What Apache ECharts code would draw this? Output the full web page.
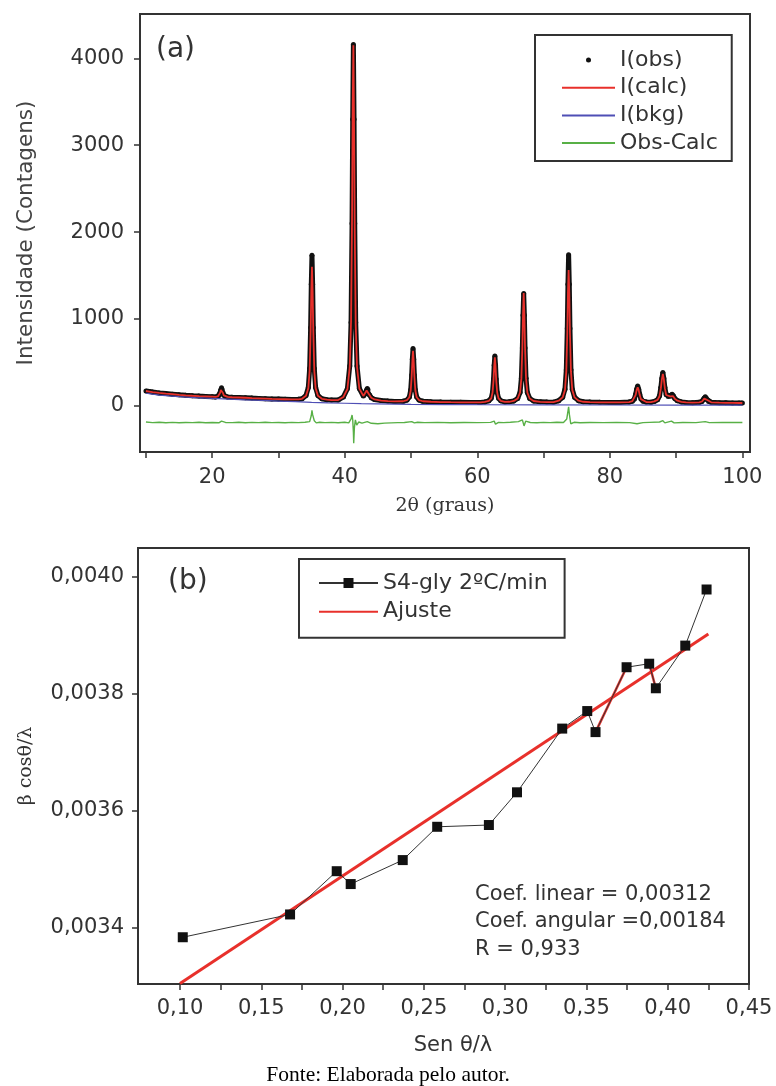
<!DOCTYPE html>
<html>
<head>
<meta charset="utf-8">
<script src="https://cdn.jsdelivr.net/npm/echarts@6/dist/echarts.min.js"></script>
<style>
  html, body { margin: 0; padding: 0; background: #fff; }
  #chart { width: 776px; height: 1086px; }
</style>
</head>
<body>
<div id="chart"></div>
<script>
// ---------- (a) X-ray diffraction pattern with Rietveld fit ----------
const twoTheta = [
  10.0, 10.5, 11.0, 12.0, 13.0, 14.0, 15.0, 16.0, 17.0, 18.0, 19.0, 20.0, 20.5,
  20.85, 21.05, 21.2, 21.3, 21.4, 21.5, 21.6, 21.75, 21.95, 22.3,
  23.0, 24.0, 25.0, 26.0, 27.0, 28.0, 29.0, 30.0, 31.0, 32.0, 33.0, 33.55,
  34.15, 34.5, 34.7, 34.85, 34.95, 35.05, 35.15, 35.25, 35.4, 35.6, 35.95, 36.55,
  37.3, 38.0, 39.0, 39.8,
  40.4, 40.75, 40.95, 41.1, 41.2, 41.3, 41.4, 41.5, 41.65, 41.85, 42.2, 42.8,
  43.1, 43.3, 43.4, 43.5, 43.7, 44.0, 44.5, 45.5, 46.5, 47.5, 48.8,
  49.4, 49.75, 49.95, 50.1, 50.2, 50.3, 50.4, 50.5, 50.65, 50.85, 51.2, 51.8,
  53.0, 54.5, 56.0, 57.5, 59.0, 60.5, 61.15, 61.75,
  62.1, 62.3, 62.45, 62.55, 62.65, 62.75, 62.85, 63.0, 63.2, 63.55, 64.15, 64.8, 65.5,
  66.1, 66.45, 66.65, 66.8, 66.9, 67.0, 67.1, 67.2, 67.35, 67.55, 67.9, 68.5,
  69.5, 70.5, 71.5, 72.28,
  72.88, 73.23, 73.43, 73.58, 73.68, 73.78, 73.88, 73.98, 74.13, 74.33, 74.68, 75.28,
  76.0, 77.0, 78.5, 80.0, 81.5, 82.9,
  83.4, 83.7, 83.9, 84.05, 84.2, 84.35, 84.5, 84.7, 85.0, 85.5, 86.2, 86.7,
  87.2, 87.5, 87.7, 87.85, 88.0, 88.15, 88.3, 88.5, 88.8,
  89.1, 89.3, 89.4, 89.55, 89.8, 90.2, 90.8, 91.5, 92.5, 93.5,
  93.9, 94.1, 94.25, 94.4, 94.55, 94.7, 94.9, 95.3, 96.5, 97.5, 98.5, 99.5, 100.0
];
const iObs = [
  172, 166, 160, 150, 142, 135, 128, 122, 117, 113, 110, 107, 104,
  110, 124, 155, 188, 210, 188, 155, 124, 110, 104,
  100, 97, 94, 90, 87, 84, 81, 79, 77, 75, 76, 82,
  120, 212, 430, 900, 1400, 1735, 1400, 900, 430, 212, 120, 82,
  72, 68, 68, 104,
  200, 460, 960, 2100, 3300, 4160, 3300, 2100, 960, 460, 200, 115,
  140, 185, 200, 185, 130, 95, 75, 62, 56, 52, 54,
  68, 102, 182, 354, 537, 660, 537, 354, 182, 102, 68, 54,
  48, 45, 43, 42, 41, 41, 46, 59,
  88, 158, 308, 468, 575, 468, 308, 158, 88, 59, 46, 48, 57,
  86, 155, 318, 668, 1045, 1295, 1045, 668, 318, 155, 86, 57,
  47, 44, 43, 60,
  100, 193, 414, 890, 1400, 1740, 1400, 890, 414, 193, 100, 60,
  48, 44, 42, 41, 40, 45,
  55, 80, 134, 192, 230, 192, 134, 80, 55, 45, 43, 52,
  71, 116, 212, 316, 385, 316, 212, 130, 108,
  115, 130, 135, 120, 85, 60, 46, 40, 38, 42,
  52, 72, 92, 106, 92, 72, 52, 42, 37, 36, 35, 34, 34
];
const iCalc = [
  172, 166, 160, 150, 142, 135, 128, 122, 117, 113, 110, 107, 104,
  109, 122, 152, 183, 200, 183, 152, 122, 109, 104,
  100, 97, 94, 90, 87, 84, 81, 79, 77, 75, 76, 82,
  118, 205, 410, 860, 1320, 1600, 1320, 860, 410, 205, 118, 82,
  72, 68, 68, 104,
  195, 450, 980, 2200, 3450, 4150, 3250, 2050, 940, 450, 200, 115,
  138, 178, 190, 178, 128, 95, 75, 62, 56, 52, 54,
  68, 100, 178, 345, 515, 635, 515, 345, 178, 100, 68, 54,
  48, 45, 43, 42, 41, 41, 46, 59,
  87, 155, 300, 455, 560, 455, 300, 155, 87, 59, 46, 48, 57,
  86, 155, 320, 675, 1050, 1300, 1050, 675, 320, 155, 86, 57,
  47, 44, 43, 60,
  98, 185, 400, 840, 1300, 1565, 1300, 840, 400, 185, 98, 60,
  48, 44, 42, 41, 40, 45,
  55, 78, 128, 182, 215, 182, 128, 78, 55, 45, 43, 52,
  70, 112, 205, 305, 370, 305, 205, 126, 105,
  110, 122, 125, 113, 82, 60, 46, 40, 38, 42,
  51, 68, 84, 92, 84, 68, 51, 42, 37, 36, 35, 34, 34
];
const bkgTheta = [10, 11, 12, 13.5, 15, 17.5, 20, 22.5, 25, 27.5, 30, 32.5, 35, 37.5, 40, 42.5, 45, 47.5, 50, 55, 60, 70, 80, 90, 100];
const iBkg = [146, 135, 125, 115, 107, 96, 86, 78, 70, 63, 56, 49, 42, 36, 31, 27, 24, 21, 19, 16, 14, 12, 11, 10, 10];
const diffTheta = [
  10, 11, 12, 13, 14, 15, 16, 17, 18, 19, 20, 21, 21.4, 21.6, 22, 23, 24, 25, 26, 27, 28, 29, 30,
  31, 32, 33, 34, 34.7, 34.95, 35.05, 35.15, 35.4, 35.7, 36.2, 37, 38, 39, 40, 40.6,
  40.95, 41.1, 41.2, 41.3, 41.35, 41.45, 41.6, 41.8, 42.1, 42.6, 43.4, 44, 45, 46, 47, 48, 49,
  50.1, 50.3, 50.5, 51, 52, 54, 56, 58, 60, 62, 62.55, 62.75, 63.2, 64, 65,
  66.2, 66.8, 67.05, 67.3, 68, 69, 70, 71, 72, 73, 73.5, 73.78, 73.9, 74.1, 74.6, 75.5,
  77, 79, 81, 83, 84.1, 84.4, 85, 86, 87.5, 88, 88.3, 89.3, 89.7, 91, 93, 94.4, 95, 97, 99, 100
];
const iDiff = [
  -185, -192, -188, -193, -189, -194, -190, -192, -188, -193, -190, -194, -175, -198, -190, -192, -188, -193, -189, -192, -188, -192, -190,
  -193, -189, -192, -188, -180, -110, -50, -100, -170, -195, -188, -192, -189, -193, -188, -195,
  -150, -104, -160, -300, -430, -250, -160, -220, -185, -198, -180, -200, -205, -198, -195, -192, -190,
  -180, -165, -195, -188, -192, -189, -193, -190, -192, -189, -175, -210, -190, -192, -188,
  -180, -160, -230, -175, -190, -193, -189, -192, -188, -190, -150, -10, -100, -205, -188, -193,
  -190, -192, -189, -192, -205, -185, -192, -189, -185, -170, -195, -175, -195, -190, -192, -180, -192, -189, -191, -190
];
const xrdXTicks = [10, 20, 30, 40, 50, 60, 70, 80, 90, 100];
const xrdXLabels = [20, 40, 60, 80, 100];
const xrdYTicks = [0, 1000, 2000, 3000, 4000];

// ---------- (b) Williamson-Hall plot ----------
const sinThetaLambda = [0.1017, 0.1677, 0.1964, 0.2050, 0.2370, 0.2582, 0.2900, 0.3073,
  0.3351, 0.3505, 0.3556, 0.3747, 0.3886, 0.3927, 0.4108, 0.4239];
const betaCosThetaLambda = [0.003383, 0.003422, 0.003496, 0.003474, 0.003515, 0.003572, 0.003575, 0.003631,
  0.003740, 0.003770, 0.003734, 0.003845, 0.003851, 0.003809, 0.003882, 0.003978];
const fitIntercept = 0.00312;   // Coef. linear
const fitSlope = 0.00184;       // Coef. angular
const fitR = 0.933;
const fitXRange = [0.1, 0.425];
const redSegments = [[10, 11], [12, 13]];   // point pairs joined in red
const whXTicks = [0.1, 0.125, 0.15, 0.175, 0.2, 0.225, 0.25, 0.275, 0.3, 0.325, 0.35, 0.375, 0.4, 0.425, 0.45];
const whXLabels = [0.1, 0.15, 0.2, 0.25, 0.3, 0.35, 0.4, 0.45];
const whYTicks = [0.0034, 0.0036, 0.0038, 0.0040];

// ---------- helpers ----------
const comma = (v, d) => v.toFixed(d).replace('.', ',');
const pairs = (xs, ys) => xs.map((x, i) => [x, ys[i]]);
const SANS = 'DejaVu Sans';
const SERIF = 'DejaVu Serif';
const INK = '#333';
const RED = '#e8302b';

const axisBase = {
  splitLine: { show: false },
  axisLine: { show: true, onZero: false, lineStyle: { color: INK, width: 2 } },
  axisLabel: { fontFamily: SANS, fontSize: 21, color: INK },
};
function tickStyle(values) {
  return { show: true, inside: false, length: 6, customValues: values, lineStyle: { color: INK, width: 1.5 } };
}

const chart = echarts.init(document.getElementById('chart'), null, { renderer: 'canvas' });

const fitData = fitXRange.map(x => [x, fitIntercept + fitSlope * x]);
const whPoints = pairs(sinThetaLambda, betaCosThetaLambda);

const option = {
  animation: false,
  backgroundColor: '#fff',
  grid: [
    { left: 140, top: 14, width: 610, height: 438, show: true, borderColor: INK, borderWidth: 2, backgroundColor: 'transparent' },
    { left: 138, top: 548, width: 611, height: 436, show: true, borderColor: INK, borderWidth: 2, backgroundColor: 'transparent' }
  ],
  xAxis: [
    Object.assign({}, axisBase, {
      type: 'value', gridIndex: 0, min: 9.1, max: 101.15,
      axisTick: tickStyle(xrdXTicks),
      axisLabel: Object.assign({}, axisBase.axisLabel, { customValues: xrdXLabels, margin: 15, formatter: v => String(v) }),
      name: '2θ (graus)', nameLocation: 'middle', nameGap: 45,
      nameTextStyle: { fontFamily: SERIF, fontSize: 19, color: INK }
    }),
    Object.assign({}, axisBase, {
      type: 'value', gridIndex: 1, min: 0.07416, max: 0.45,
      axisTick: tickStyle(whXTicks),
      axisLabel: Object.assign({}, axisBase.axisLabel, { customValues: whXLabels, margin: 14, formatter: v => comma(v, 2) }),
      name: 'Sen θ/λ', nameLocation: 'middle', nameGap: 51,
      nameTextStyle: { fontFamily: SANS, fontSize: 21, color: INK, padding: [0, 0, 0, 19] }
    })
  ],
  yAxis: [
    Object.assign({}, axisBase, {
      type: 'value', gridIndex: 0, min: -530, max: 4510,
      axisTick: tickStyle(xrdYTicks),
      axisLabel: Object.assign({}, axisBase.axisLabel, { customValues: xrdYTicks, margin: 16, formatter: v => String(v) }),
      name: 'Intensidade (Contagens)', nameLocation: 'middle', nameGap: 103,
      nameTextStyle: { fontFamily: SANS, fontSize: 21.5, color: '#444' }
    }),
    Object.assign({}, axisBase, {
      type: 'value', gridIndex: 1, min: 0.003303, max: 0.004049,
      axisTick: tickStyle(whYTicks),
      axisLabel: Object.assign({}, axisBase.axisLabel, { customValues: whYTicks, margin: 14, formatter: v => comma(v, 4) }),
      name: 'β cosθ/λ', nameLocation: 'middle', nameGap: 102,
      nameTextStyle: { fontFamily: SERIF, fontSize: 19, color: INK }
    })
  ],
  legend: [
    {
      orient: 'vertical', left: 535, top: 35, padding: [14, 14, 7, 26],
      itemWidth: 53, itemHeight: 5, itemGap: 5.7,
      borderColor: INK, borderWidth: 2, selectedMode: false,
      textStyle: { fontFamily: SANS, fontSize: 22, color: INK, lineHeight: 22 },
      data: [
        { name: 'I(obs)', icon: 'circle' },
        { name: 'I(calc)', itemStyle: { opacity: 0 } },
        { name: 'I(bkg)', itemStyle: { opacity: 0 } },
        { name: 'Obs-Calc', itemStyle: { opacity: 0 } }
      ]
    },
    {
      orient: 'vertical', left: 299, top: 559, padding: [13, 17, 15, 19],
      itemWidth: 59, itemHeight: 12.5, itemGap: 6.7,
      borderColor: INK, borderWidth: 2, selectedMode: false,
      textStyle: { fontFamily: SANS, fontSize: 22, color: INK, lineHeight: 22 },
      data: [
        { name: 'S4-gly 2ºC/min' },
        { name: 'Ajuste', itemStyle: { opacity: 0 } }
      ]
    }
  ],
  series: [
    {
      name: 'I(obs)', type: 'line', xAxisIndex: 0, yAxisIndex: 0, z: 2,
      data: pairs(twoTheta, iObs),
      symbol: 'circle', symbolSize: 5, showSymbol: true,
      itemStyle: { color: '#111' }, lineStyle: { color: '#111', width: 5 }
    },
    {
      name: 'I(bkg)', type: 'line', xAxisIndex: 0, yAxisIndex: 0, z: 3,
      data: pairs(bkgTheta, iBkg), symbol: 'none',
      itemStyle: { color: '#4f4fb5' }, lineStyle: { color: '#4f4fb5', width: 1.2 }
    },
    {
      name: 'I(calc)', type: 'line', xAxisIndex: 0, yAxisIndex: 0, z: 4,
      data: pairs(twoTheta, iCalc), symbol: 'none',
      itemStyle: { color: RED }, lineStyle: { color: RED, width: 1.8 }
    },
    {
      name: 'Obs-Calc', type: 'line', xAxisIndex: 0, yAxisIndex: 0, z: 3,
      data: pairs(diffTheta, iDiff), symbol: 'none',
      itemStyle: { color: '#58b046' }, lineStyle: { color: '#58b046', width: 1.4 }
    },
    {
      name: 'Ajuste', type: 'line', xAxisIndex: 1, yAxisIndex: 1, z: 4,
      data: fitData, symbol: 'none',
      itemStyle: { color: RED }, lineStyle: { color: RED, width: 3 }
    },
    ...redSegments.map(([a, b]) => ({
      name: 'Ajuste', type: 'line', xAxisIndex: 1, yAxisIndex: 1, z: 4,
      data: [whPoints[a], whPoints[b]], symbol: 'none',
      itemStyle: { color: RED }, lineStyle: { color: RED, width: 2.5 }
    })),
    {
      name: 'S4-gly 2ºC/min', type: 'line', xAxisIndex: 1, yAxisIndex: 1, z: 5,
      data: whPoints, symbol: 'rect', symbolSize: 10,
      itemStyle: { color: '#111' }, lineStyle: { color: '#333', width: 1 }
    }
  ],
  graphic: [
    { type: 'text', x: 156, y: 50, style: { text: '(a)', fontFamily: SANS, fontSize: 28, fill: INK, align: 'left', verticalAlign: 'middle' } },
    { type: 'text', x: 168, y: 582, style: { text: '(b)', fontFamily: SANS, fontSize: 28, fill: INK, align: 'left', verticalAlign: 'middle' } },
    {
      type: 'text', x: 475, y: 880.5,
      style: {
        text: 'Coef. linear = ' + comma(fitIntercept, 5) + '\nCoef. angular =' + comma(fitSlope, 5) + '\nR = ' + comma(fitR, 3),
        fontFamily: SANS, fontSize: 21, lineHeight: 27.5, fill: INK, align: 'left', verticalAlign: 'top'
      }
    },
    { type: 'text', x: 388, y: 1075, style: { text: 'Fonte: Elaborada pelo autor.', fontFamily: 'Liberation Serif', fontSize: 21.5, fill: '#000', align: 'center', verticalAlign: 'middle' } }
  ]
};

chart.setOption(option);
</script>
</body>
</html>
